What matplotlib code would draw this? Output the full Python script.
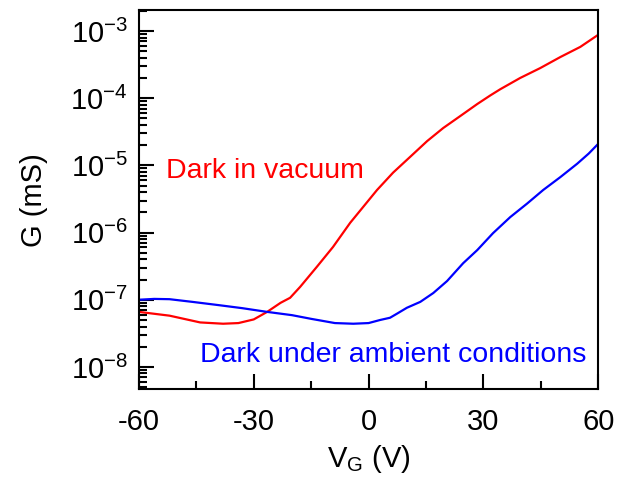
import math
import matplotlib
matplotlib.use("Agg")
import matplotlib.pyplot as plt
from matplotlib.ticker import LogLocator, MultipleLocator, FixedLocator, FuncFormatter

# gate voltage (V) and conductance (mS)
vg_vacuum = [-60, -52, -44, -38, -34, -30, -26.5, -23, -20.5, -17.9, -13.5, -9.3,
             -4.8, -1.7, 2.2, 6.4, 10.8, 15.3, 19.5, 23.9, 28.4, 31.8, 34.4,
             39.6, 44.8, 50.1, 55.3, 60]
g_vacuum = [6.6e-8, 5.8e-8, 4.6e-8, 4.4e-8, 4.5e-8, 5.1e-8, 6.6e-8, 9e-8, 1.07e-7,
            1.55e-7, 3.1e-7, 6.1e-7, 1.4e-6, 2.3e-6, 4.3e-6, 7.8e-6, 1.33e-5,
            2.3e-5, 3.6e-5, 5.4e-5, 8.2e-5, 1.1e-4, 1.36e-4, 2.0e-4, 2.8e-4,
            4.1e-4, 5.8e-4, 8.8e-4]

vg_ambient = [-60, -56, -52, -46, -39, -33, -26.5, -20, -15, -8.8, -4, 0, 3, 5.6,
              7.4, 10, 13.5, 16.9, 20.5, 24.7, 28.4, 32.5, 37, 41.4, 45.6, 50.1,
              54.5, 57.5, 60]
g_ambient = [1.0e-7, 1.03e-7, 1.02e-7, 9.3e-8, 8.3e-8, 7.5e-8, 6.6e-8, 5.9e-8,
             5.2e-8, 4.5e-8, 4.4e-8, 4.5e-8, 5.0e-8, 5.4e-8, 6.2e-8, 7.6e-8,
             9.3e-8, 1.26e-7, 1.9e-7, 3.5e-7, 5.5e-7, 9.8e-7, 1.7e-6, 2.7e-6,
             4.3e-6, 6.7e-6, 1.06e-5, 1.5e-5, 2.1e-5]

x_ticks = [-60, -30, 0, 30, 60]
y_ticks = [1e-8, 1e-7, 1e-6, 1e-5, 1e-4, 1e-3]

plt.rcParams['font.family'] = ['Liberation Sans', 'DejaVu Sans']
plt.rcParams['mathtext.fontset'] = 'custom'
plt.rcParams['mathtext.rm'] = 'Liberation Sans'
plt.rcParams['mathtext.it'] = 'Liberation Sans'
plt.rcParams['axes.unicode_minus'] = False

fig = plt.figure(figsize=(6.2, 4.84), dpi=100)
ax = fig.add_axes([0.224, 0.196, 0.741, 0.783])

ax.semilogy(vg_vacuum, g_vacuum, color='#ff0000', lw=1.6)
ax.semilogy(vg_ambient, g_ambient, color='#0000ff', lw=1.6)

ax.set_xlim(-60, 60)
ax.set_ylim(10 ** -8.33, 10 ** -2.69)

ax.xaxis.set_major_locator(FixedLocator(x_ticks))
ax.xaxis.set_minor_locator(MultipleLocator(15))
ax.yaxis.set_major_locator(FixedLocator(y_ticks))
ax.yaxis.set_minor_locator(LogLocator(base=10, subs=range(2, 10), numticks=20))
ax.yaxis.set_major_formatter(FuncFormatter(
    lambda v, p: r'$\mathregular{10^{%d}}$' % round(math.log10(v))))

ax.tick_params(which='both', direction='in', top=False, right=False,
               labelsize=21, width=1.5)
ax.tick_params(which='major', length=10.5)
ax.tick_params(which='minor', length=6)
ax.tick_params(axis='x', pad=13.5)
ax.tick_params(axis='y', pad=8)

for s in ax.spines.values():
    s.set_linewidth(1.5)

ax.set_xlabel(r'V$_\mathregular{G}$ (V)', fontsize=21, labelpad=5)
ax.set_ylabel('G (mS)', fontsize=21, labelpad=16)

ax.text(-52.9, 8.3e-6, 'Dark in vacuum', color='#ff0000', fontsize=20.5,
        va='center', ha='left')
ax.text(-44, 1.5e-8, 'Dark under ambient conditions', color='#0000ff',
        fontsize=20.5, va='center', ha='left')

fig.savefig('out.png', dpi=100)
